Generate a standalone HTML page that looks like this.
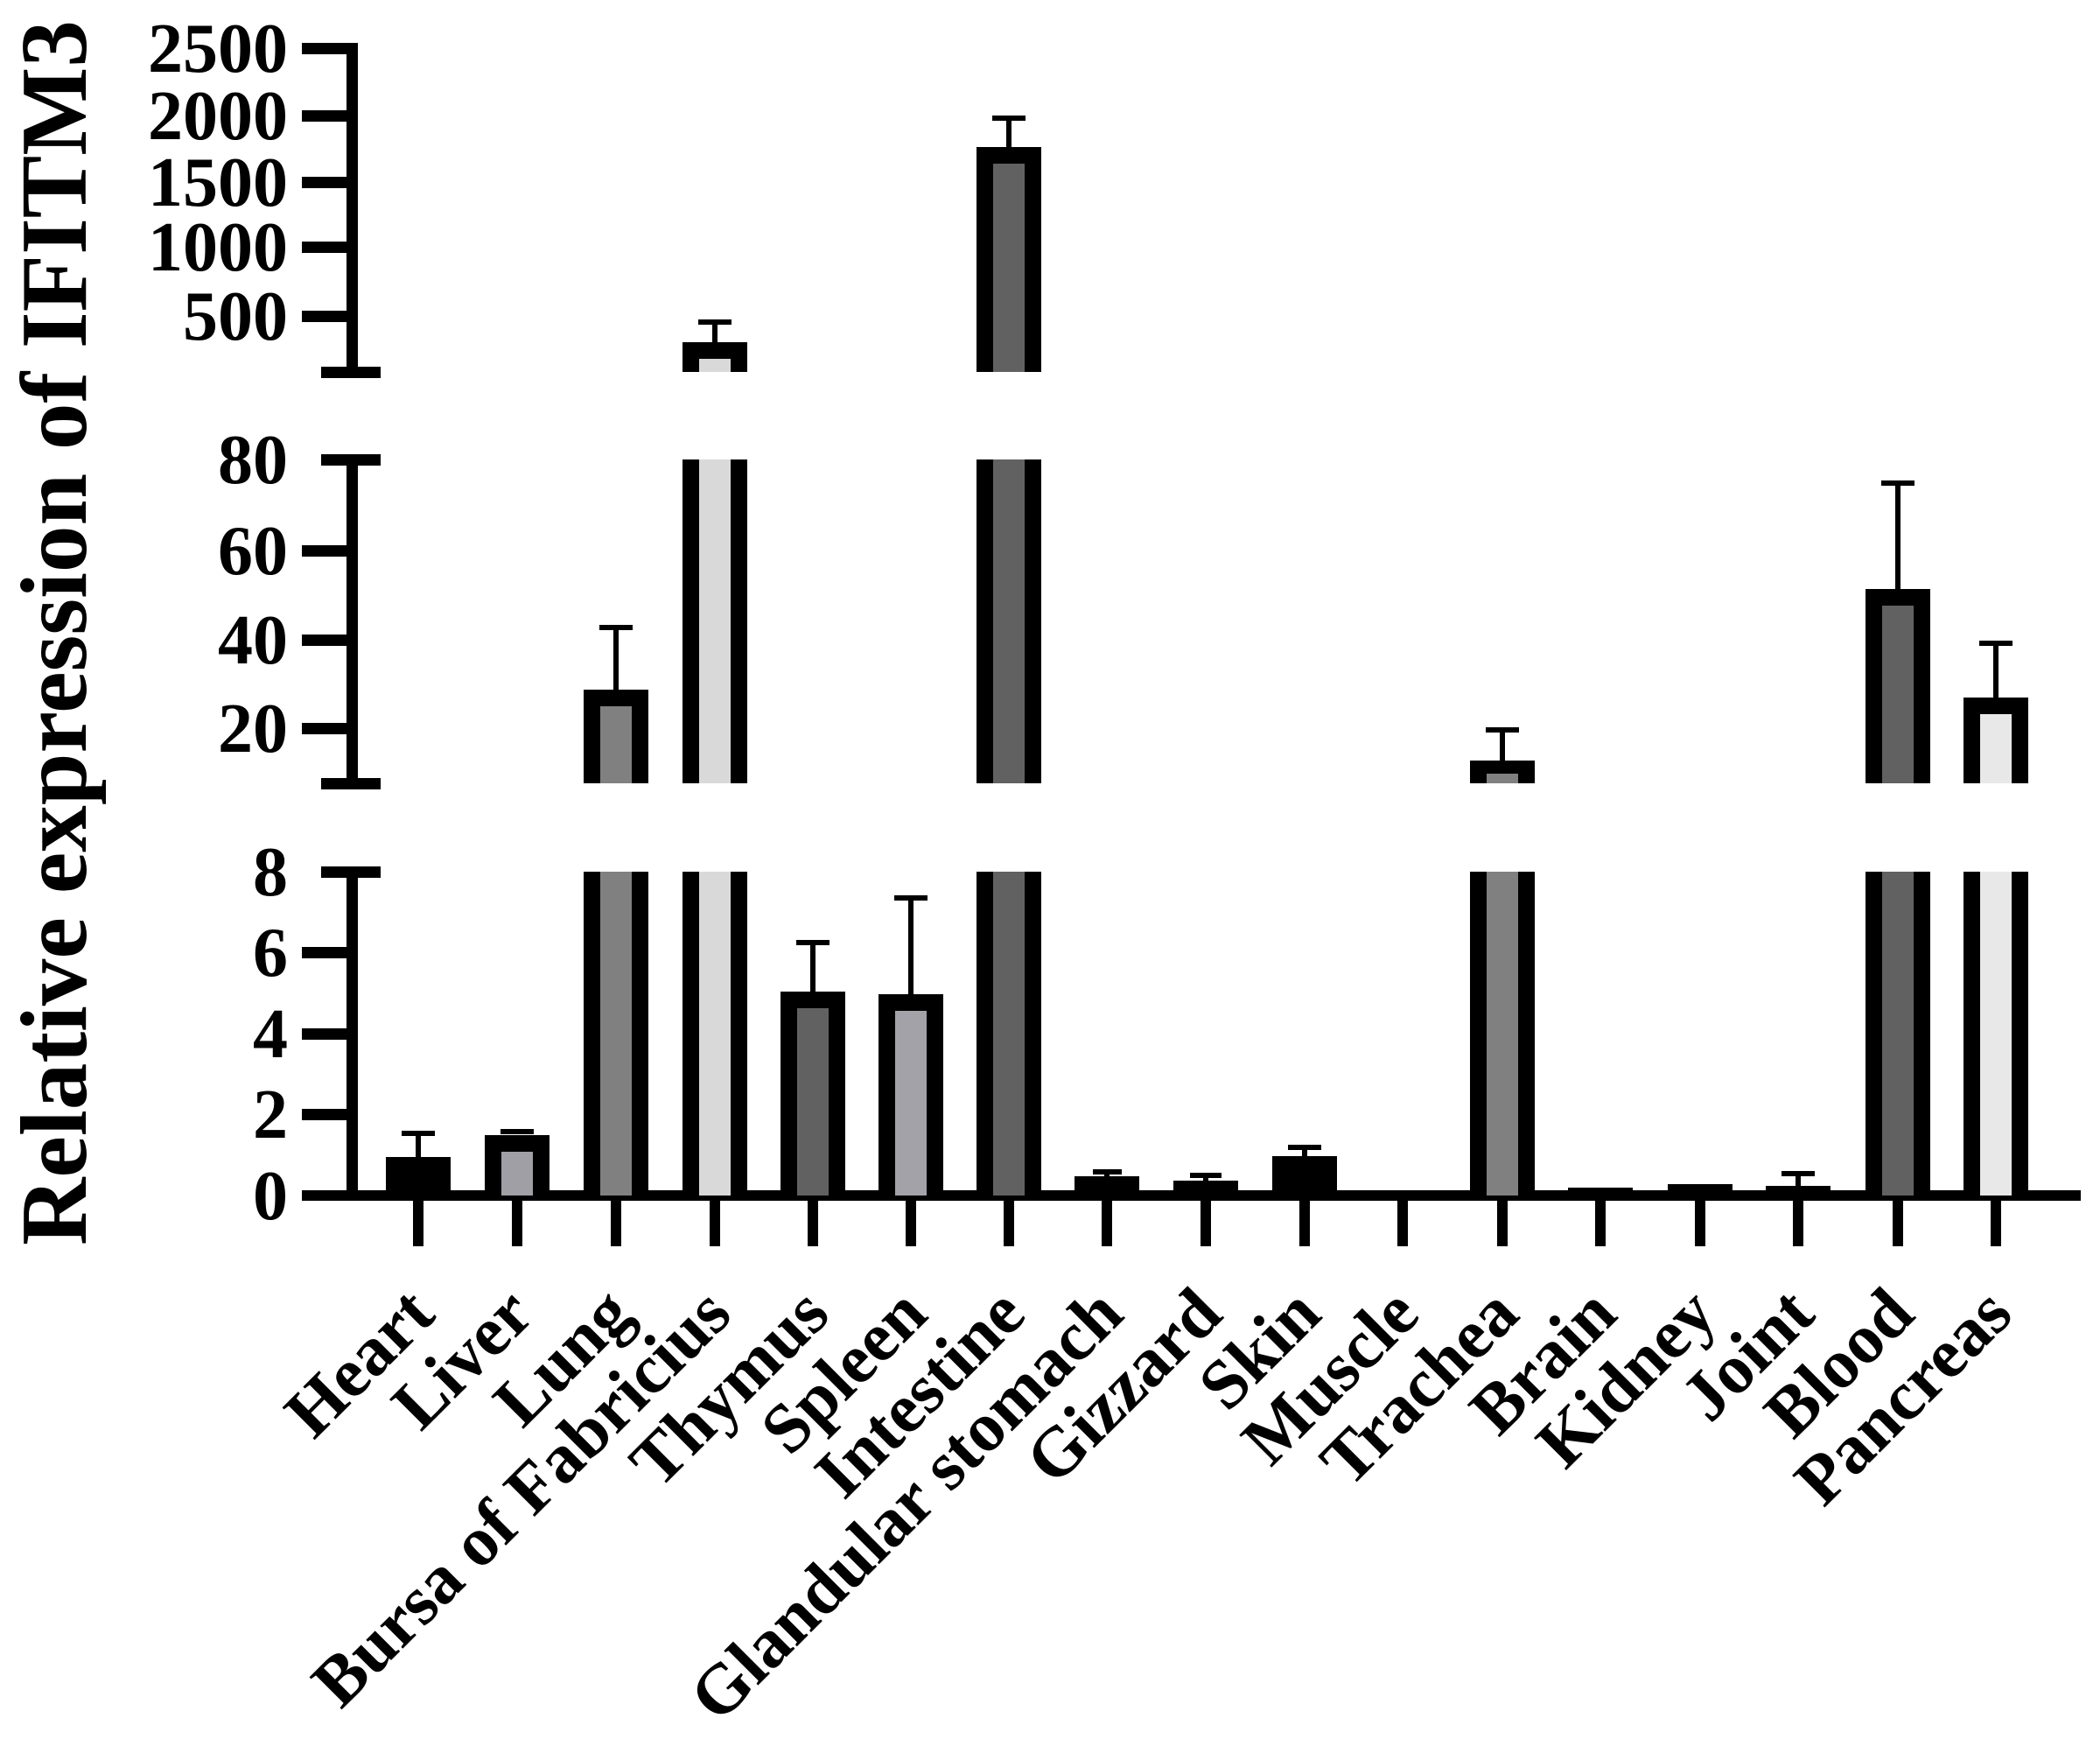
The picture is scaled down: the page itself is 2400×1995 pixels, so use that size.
<!DOCTYPE html>
<html><head><meta charset="utf-8"><style>
html,body{margin:0;padding:0;background:#fff;}
svg{display:block;}
text{font-family:"Liberation Serif",serif;font-weight:bold;fill:#000;}
</style></head><body>
<svg width="2400" height="1995" viewBox="0 0 2400 1995" xmlns="http://www.w3.org/2000/svg">
<rect width="2400" height="1995" fill="#fff"/>
<!-- Y title -->
<text transform="translate(98,1423) rotate(-90)" font-size="108" textLength="1400" lengthAdjust="spacingAndGlyphs">Relative expression of IFITM3</text>
<!-- Y axis segments -->
<g fill="#000">
<rect x="396" y="49" width="13" height="382"/>
<rect x="396" y="519" width="13" height="382"/>
<rect x="396" y="990" width="13" height="382"/>
<!-- normal ticks -->
<rect x="345" y="49" width="64" height="13"/>
<rect x="345" y="126" width="64" height="13"/>
<rect x="345" y="202" width="64" height="13"/>
<rect x="345" y="276" width="64" height="13"/>
<rect x="345" y="355" width="64" height="13"/>
<rect x="345" y="623" width="64" height="13"/>
<rect x="345" y="725" width="64" height="13"/>
<rect x="345" y="826" width="64" height="13"/>
<rect x="345" y="1082" width="64" height="13"/>
<rect x="345" y="1175" width="64" height="13"/>
<rect x="345" y="1267" width="64" height="13"/>
<!-- segment-end ticks -->
<rect x="367" y="419" width="68" height="13"/>
<rect x="367" y="519" width="68" height="13"/>
<rect x="367" y="889" width="68" height="13"/>
<rect x="367" y="990" width="68" height="13"/>
<!-- baseline -->
<rect x="345" y="1360" width="2033" height="12"/>
</g>
<!-- Y tick labels -->
<g font-size="80" text-anchor="end">
<text x="329" y="82">2500</text>
<text x="329" y="159">2000</text>
<text x="329" y="235">1500</text>
<text x="329" y="309">1000</text>
<text x="329" y="388">500</text>
<text x="329" y="552">80</text>
<text x="329" y="656">60</text>
<text x="329" y="758">40</text>
<text x="329" y="859">20</text>
<text x="329" y="1023">8</text>
<text x="329" y="1115">6</text>
<text x="329" y="1208">4</text>
<text x="329" y="1300">2</text>
<text x="329" y="1393">0</text>
</g>
<!-- X ticks -->
<g fill="#000">
<rect x="472" y="1366" width="12" height="58"/>
<rect x="585" y="1366" width="12" height="58"/>
<rect x="698" y="1366" width="12" height="58"/>
<rect x="811" y="1366" width="12" height="58"/>
<rect x="923" y="1366" width="12" height="58"/>
<rect x="1035" y="1366" width="12" height="58"/>
<rect x="1147" y="1366" width="12" height="58"/>
<rect x="1259" y="1366" width="12" height="58"/>
<rect x="1372" y="1366" width="12" height="58"/>
<rect x="1485" y="1366" width="12" height="58"/>
<rect x="1597" y="1366" width="12" height="58"/>
<rect x="1711" y="1366" width="12" height="58"/>
<rect x="1823" y="1366" width="12" height="58"/>
<rect x="1937" y="1366" width="12" height="58"/>
<rect x="2049" y="1366" width="12" height="58"/>
<rect x="2163" y="1366" width="12" height="58"/>
<rect x="2275" y="1366" width="12" height="58"/>
</g>
<!-- Bars -->
<g>
<!-- Heart -->
<rect x="441" y="1322" width="74" height="44" fill="#000"/>
<rect x="475" y="1295" width="6" height="27" fill="#000"/><rect x="459" y="1292" width="38" height="6" fill="#000"/>
<!-- Liver -->
<rect x="554" y="1297" width="74" height="69" fill="#000"/>
<rect x="573" y="1316" width="36" height="50" fill="#a09fa6"/>
<rect x="572" y="1290" width="38" height="6" fill="#000"/>
<!-- Lung -->
<rect x="667" y="996" width="74" height="370" fill="#000"/><rect x="686" y="996" width="36" height="370" fill="#808080"/>
<rect x="667" y="788" width="74" height="107" fill="#000"/><rect x="686" y="807" width="36" height="88" fill="#808080"/>
<rect x="701" y="717" width="6" height="71" fill="#000"/><rect x="685" y="714" width="38" height="6" fill="#000"/>
<!-- Bursa -->
<rect x="780" y="996" width="74" height="370" fill="#000"/><rect x="799" y="996" width="36" height="370" fill="#d9d9d9"/>
<rect x="780" y="525" width="74" height="370" fill="#000"/><rect x="799" y="525" width="36" height="370" fill="#d9d9d9"/>
<rect x="780" y="391" width="74" height="34" fill="#000"/><rect x="799" y="410" width="36" height="15" fill="#d9d9d9"/>
<rect x="814" y="368" width="6" height="23" fill="#000"/><rect x="798" y="365" width="38" height="6" fill="#000"/>
<!-- Thymus -->
<rect x="892" y="1133" width="74" height="233" fill="#000"/><rect x="911" y="1152" width="36" height="214" fill="#616161"/>
<rect x="926" y="1077" width="6" height="56" fill="#000"/><rect x="910" y="1074" width="38" height="6" fill="#000"/>
<!-- Spleen -->
<rect x="1004" y="1136" width="74" height="230" fill="#000"/><rect x="1023" y="1155" width="36" height="211" fill="#a3a2a8"/>
<rect x="1038" y="1026" width="6" height="110" fill="#000"/><rect x="1022" y="1023" width="38" height="6" fill="#000"/>
<!-- Intestine -->
<rect x="1116" y="996" width="74" height="370" fill="#000"/><rect x="1135" y="996" width="36" height="370" fill="#616161"/>
<rect x="1116" y="525" width="74" height="370" fill="#000"/><rect x="1135" y="525" width="36" height="370" fill="#616161"/>
<rect x="1116" y="168" width="74" height="257" fill="#000"/><rect x="1135" y="187" width="36" height="238" fill="#616161"/>
<rect x="1150" y="135" width="6" height="33" fill="#000"/><rect x="1134" y="132" width="38" height="6" fill="#000"/>
<!-- Glandular stomach -->
<rect x="1228" y="1344" width="74" height="22" fill="#000"/>
<rect x="1262" y="1338" width="6" height="6" fill="#000"/><rect x="1249" y="1336" width="33" height="6" fill="#000"/>
<!-- Gizzard -->
<rect x="1341" y="1349" width="74" height="17" fill="#000"/>
<rect x="1375" y="1342" width="6" height="7" fill="#000"/><rect x="1360" y="1340" width="36" height="6" fill="#000"/>
<!-- Skin -->
<rect x="1454" y="1321" width="74" height="45" fill="#000"/>
<rect x="1488" y="1310" width="6" height="11" fill="#000"/><rect x="1472" y="1308" width="38" height="6" fill="#000"/>
<!-- Trachea -->
<rect x="1680" y="996" width="74" height="370" fill="#000"/><rect x="1699" y="996" width="36" height="370" fill="#808080"/>
<rect x="1680" y="869" width="74" height="26" fill="#000"/><rect x="1699" y="884" width="36" height="11" fill="#808080"/>
<rect x="1714" y="834" width="6" height="35" fill="#000"/><rect x="1698" y="831" width="38" height="6" fill="#000"/>
<!-- Brain -->
<rect x="1792" y="1357" width="74" height="9" fill="#000"/>
<!-- Kidney -->
<rect x="1906" y="1353" width="74" height="13" fill="#000"/>
<!-- Joint -->
<rect x="2018" y="1355" width="74" height="11" fill="#000"/>
<rect x="2052" y="1341" width="6" height="14" fill="#000"/><rect x="2036" y="1338" width="38" height="6" fill="#000"/>
<!-- Blood -->
<rect x="2132" y="996" width="74" height="370" fill="#000"/><rect x="2151" y="996" width="36" height="370" fill="#616161"/>
<rect x="2132" y="673" width="74" height="222" fill="#000"/><rect x="2151" y="692" width="36" height="203" fill="#616161"/>
<rect x="2166" y="552" width="6" height="121" fill="#000"/><rect x="2150" y="549" width="38" height="6" fill="#000"/>
<!-- Pancreas -->
<rect x="2244" y="996" width="74" height="370" fill="#000"/><rect x="2263" y="996" width="36" height="370" fill="#e8e8e8"/>
<rect x="2244" y="797" width="74" height="98" fill="#000"/><rect x="2263" y="816" width="36" height="79" fill="#e8e8e8"/>
<rect x="2278" y="735" width="6" height="62" fill="#000"/><rect x="2262" y="732" width="38" height="6" fill="#000"/>
</g>
<!-- X labels -->
<g font-size="80" text-anchor="end">
<text transform="translate(500,1505) rotate(-45)">Heart</text>
<text transform="translate(613,1505) rotate(-45)">Liver</text>
<text transform="translate(726,1505) rotate(-45)">Lung</text>
<text transform="translate(839,1505) rotate(-45)">Bursa of Fabricius</text>
<text transform="translate(951,1505) rotate(-45)">Thymus</text>
<text transform="translate(1063,1505) rotate(-45)">Spleen</text>
<text transform="translate(1175,1505) rotate(-45)">Intestine</text>
<text transform="translate(1287,1505) rotate(-45)">Glandular stomach</text>
<text transform="translate(1400,1505) rotate(-45)">Gizzard</text>
<text transform="translate(1513,1505) rotate(-45)">Skin</text>
<text transform="translate(1625,1505) rotate(-45)">Muscle</text>
<text transform="translate(1739,1505) rotate(-45)">Trachea</text>
<text transform="translate(1851,1505) rotate(-45)">Brain</text>
<text transform="translate(1965,1505) rotate(-45)">Kidney</text>
<text transform="translate(2077,1505) rotate(-45)">Joint</text>
<text transform="translate(2191,1505) rotate(-45)">Blood</text>
<text transform="translate(2303,1505) rotate(-45)">Pancreas</text>
</g>
</svg>
</body></html>
